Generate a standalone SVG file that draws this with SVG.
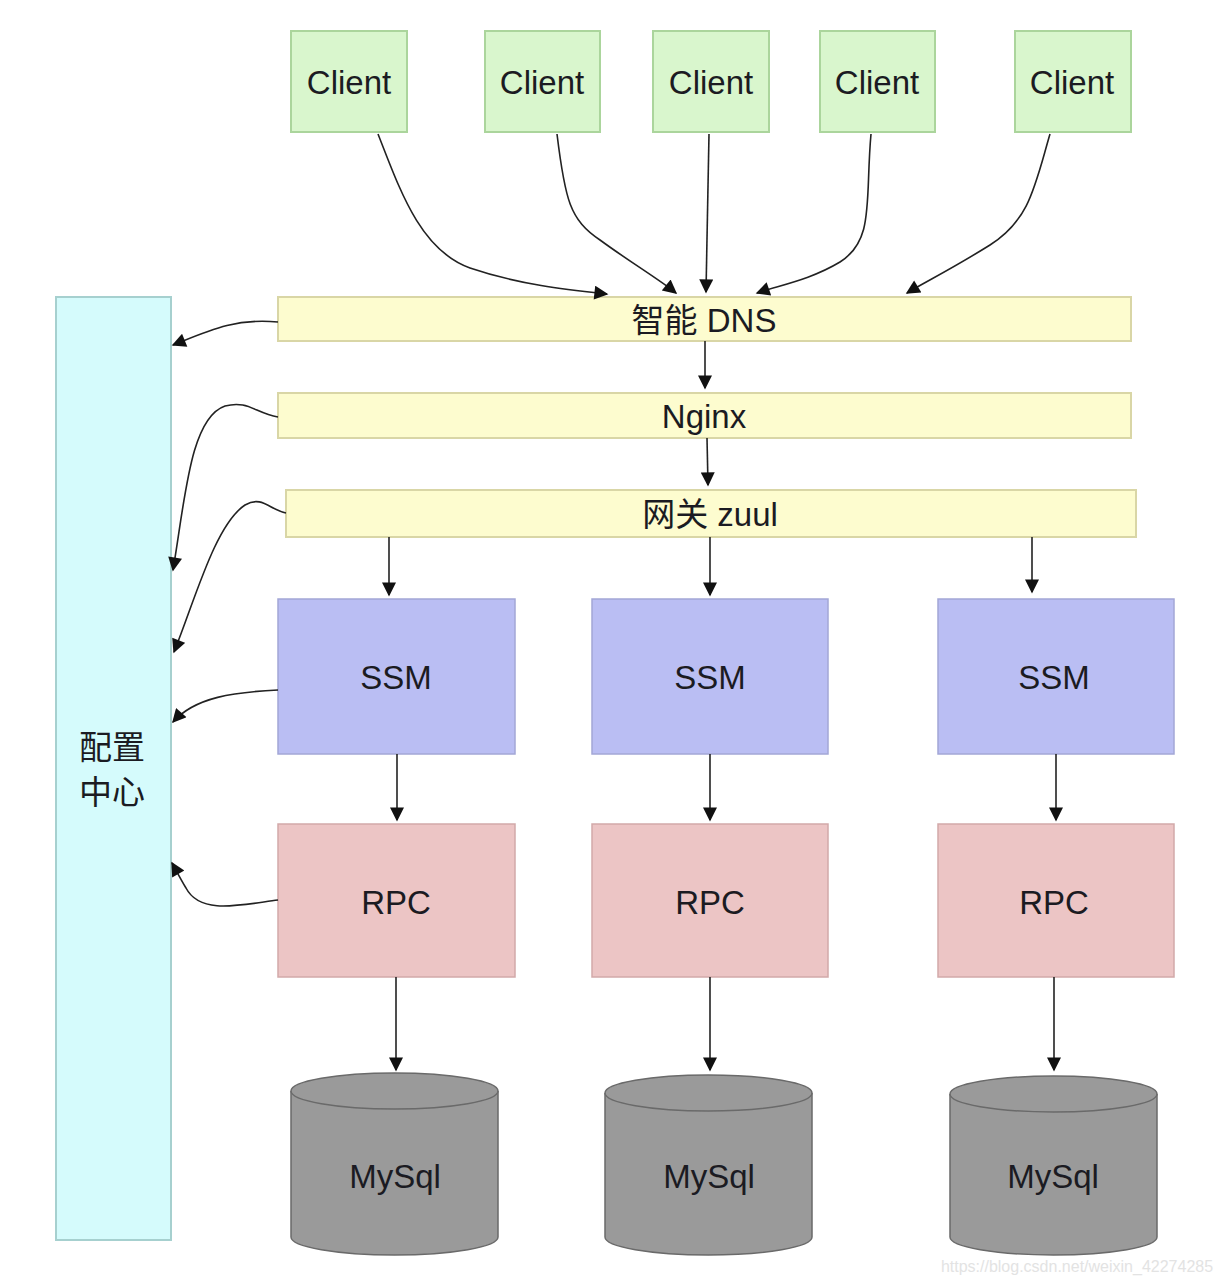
<svg xmlns="http://www.w3.org/2000/svg" width="1222" height="1284" viewBox="0 0 1222 1284">
<defs>
<marker id="ah" viewBox="0 0 10 10" refX="9" refY="5" markerWidth="16" markerHeight="14" markerUnits="userSpaceOnUse" orient="auto">
<path d="M0,0 L10,5 L0,10 z" fill="#111"/>
</marker>
<style>
.t{font-family:"Liberation Sans","Noto Sans CJK SC",sans-serif;fill:#1b1b22;text-anchor:middle;dominant-baseline:central}
.cl{fill:#d9f6cd;stroke:#abd59c;stroke-width:2}
.bar{fill:#fdfccf;stroke:#d9d6a6;stroke-width:2}
.ssm{fill:#babef3;stroke:#a3a7d6;stroke-width:1.5}
.rpc{fill:#ecc5c5;stroke:#d2a9a9;stroke-width:1.5}
.db{fill:#9a9a9a;stroke:#6a6a6a;stroke-width:1.5}
.c{fill:none;stroke:#222;stroke-width:1.6;marker-end:url(#ah)}
</style>
</defs>
<rect width="1222" height="1284" fill="#fff"/>
<g id="config"><rect x="56" y="297" width="115" height="943" fill="#d5fbfc" stroke="#a6d0cf" stroke-width="2"/><text class="t" x="112" y="747" font-size="33">配置</text><text class="t" x="112" y="792" font-size="33">中心</text></g>
<g id="client1"><rect class="cl" x="291" y="31" width="116" height="101" stroke="#cdbbe3"/><text class="t" x="349" y="82" font-size="33">Client</text></g>
<g id="client2"><rect class="cl" x="485" y="31" width="115" height="101"/><text class="t" x="542" y="82" font-size="33">Client</text></g>
<g id="client3"><rect class="cl" x="653" y="31" width="116" height="101"/><text class="t" x="711" y="82" font-size="33">Client</text></g>
<g id="client4"><rect class="cl" x="820" y="31" width="115" height="101"/><text class="t" x="877" y="82" font-size="33">Client</text></g>
<g id="client5"><rect class="cl" x="1015" y="31" width="116" height="101"/><text class="t" x="1072" y="82" font-size="33">Client</text></g>
<g id="dns"><rect class="bar" x="278" y="297" width="853" height="44"/><text class="t" x="704" y="320" font-size="33">智能 DNS</text></g>
<g id="nginx"><rect class="bar" x="278" y="393" width="853" height="45"/><text class="t" x="704" y="416" font-size="33">Nginx</text></g>
<g id="zuul"><rect class="bar" x="286" y="490" width="850" height="47"/><text class="t" x="710" y="514" font-size="33">网关 zuul</text></g>
<g id="ssm1"><rect class="ssm" x="278" y="599" width="237" height="155"/><text class="t" x="396" y="677" font-size="33">SSM</text></g>
<g id="ssm2"><rect class="ssm" x="592" y="599" width="236" height="155"/><text class="t" x="710" y="677" font-size="33">SSM</text></g>
<g id="ssm3"><rect class="ssm" x="938" y="599" width="236" height="155"/><text class="t" x="1054" y="677" font-size="33">SSM</text></g>
<g id="rpc1"><rect class="rpc" x="278" y="824" width="237" height="153"/><text class="t" x="396" y="902" font-size="33">RPC</text></g>
<g id="rpc2"><rect class="rpc" x="592" y="824" width="236" height="153"/><text class="t" x="710" y="902" font-size="33">RPC</text></g>
<g id="rpc3"><rect class="rpc" x="938" y="824" width="236" height="153"/><text class="t" x="1054" y="902" font-size="33">RPC</text></g>
<g id="mysql1"><path class="db" d="M291,1091 L291,1237 A103.5,18 0 0 0 498,1237 L498,1091 A103.5,18 0 0 0 291,1091 Z"/><path class="db" d="M291,1091 A103.5,18 0 0 0 498,1091" fill="none"/><text class="t" x="395" y="1176" font-size="33">MySql</text></g>
<g id="mysql2"><path class="db" d="M605,1093 L605,1237 A103.5,18 0 0 0 812,1237 L812,1093 A103.5,18 0 0 0 605,1093 Z"/><path class="db" d="M605,1093 A103.5,18 0 0 0 812,1093" fill="none"/><text class="t" x="709" y="1176" font-size="33">MySql</text></g>
<g id="mysql3"><path class="db" d="M950,1094 L950,1237 A103.5,18 0 0 0 1157,1237 L1157,1094 A103.5,18 0 0 0 950,1094 Z"/><path class="db" d="M950,1094 A103.5,18 0 0 0 1157,1094" fill="none"/><text class="t" x="1053" y="1176" font-size="33">MySql</text></g>
<g id="connectors">
<path class="c" d="M378,134 C400,190 420,250 470,268 C520,285 570,290 607,294"/>
<path class="c" d="M557,134 C565,200 570,220 600,240 C630,262 660,280 676,293"/>
<path class="c" d="M709,134 L706,292"/>
<path class="c" d="M871,134 C865,200 875,240 840,262 C810,280 780,285 757,293"/>
<path class="c" d="M1050,134 C1035,185 1030,220 990,245 C950,270 925,282 907,293"/>
<path class="c" d="M705,341 L705,388"/>
<path class="c" d="M707,438 L708,485"/>
<path class="c" d="M389,537 L389,595"/>
<path class="c" d="M710,537 L710,595"/>
<path class="c" d="M1032,537 L1032,592"/>
<path class="c" d="M397,754 L397,820"/>
<path class="c" d="M710,754 L710,820"/>
<path class="c" d="M1056,754 L1056,820"/>
<path class="c" d="M396,977 L396,1070"/>
<path class="c" d="M710,977 L710,1070"/>
<path class="c" d="M1054,977 L1054,1070"/>
<path class="c" d="M278,322 C235,318 210,330 173,345"/>
<path class="c" d="M278,417 C255,413 248,400 225,406 C190,418 185,500 173,570"/>
<path class="c" d="M286,513 C270,510 262,495 245,505 C215,525 195,600 174,652"/>
<path class="c" d="M278,690 C235,692 195,697 173,722"/>
<path class="c" d="M278,900 C240,905 200,915 186,888 C180,878 176,870 172,863"/>
</g>
<text x="1077" y="1266" font-family="Liberation Sans, sans-serif" font-size="16" fill="#e3e3e3" text-anchor="middle" dominant-baseline="central">https://blog.csdn.net/weixin_42274285</text>
</svg>
